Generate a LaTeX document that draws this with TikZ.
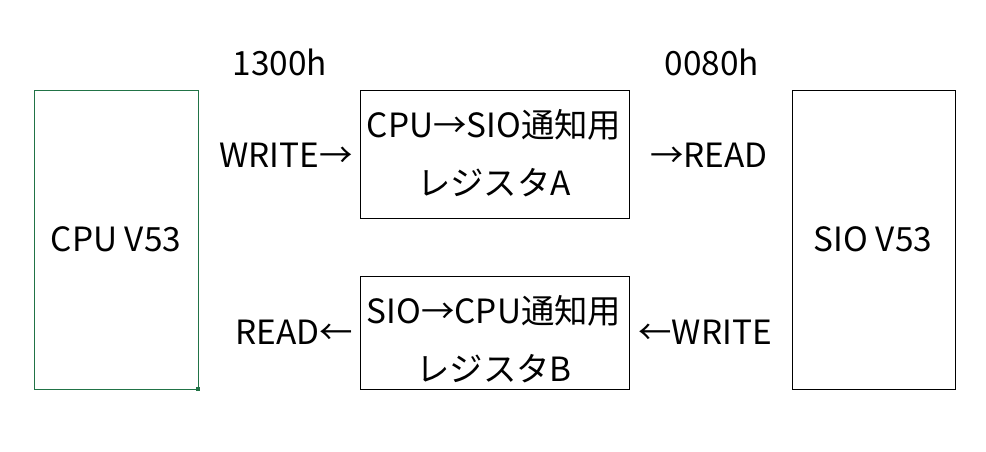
\documentclass[tikz,border=0pt]{standalone}
\usepackage{fontspec}
\setmainfont{Noto Sans CJK JP}
\definecolor{xlgreen}{HTML}{217346}
\begin{document}
\begin{tikzpicture}[x=0.02cm,y=-0.02cm,font=\fontsize{19}{22}\selectfont]
        \tikzset{box/.style={draw=black,thin},lbl/.style={inner sep=0pt}}
        \useasboundingbox (0,0) rectangle (986,451);

        % CPU / SIO
        \draw[xlgreen,thin] (34,90) rectangle (198,389);
        \fill[xlgreen] (196,387) rectangle (200,391);
        \node[lbl] (cpu) at (116,239) {CPU V53};
        \draw[box] (792,90) rectangle (955,389);
        \node[lbl] (sio) at (873,239) {SIO V53};

        % registers
        \foreach \y/\a/\b/\c in {90/218/CPU→SIO/A, 276/389/SIO→CPU/B}
        {
            \draw[box] (360,\y) rectangle (629,\a);
            \node[lbl] at (494,\y + 35) {\b 通知用};
            \node[lbl] at (494,\y + 93) {レジスタ\c};
        }

        % addresses, access
        \node[lbl] (adrA) at (280,62) {1300h};
        \node[lbl] (adrB) at (712,62) {0080h};
        \node[lbl] (wrA) at (286,155) {WRITE→};
        \node[lbl] (rdA) at (709,155) {→READ};
        \node[lbl] (rdB) at (294,332) {READ←};
        \node[lbl] (wrB) at (705,332) {←WRITE};
    \end{tikzpicture}
\end{document}
